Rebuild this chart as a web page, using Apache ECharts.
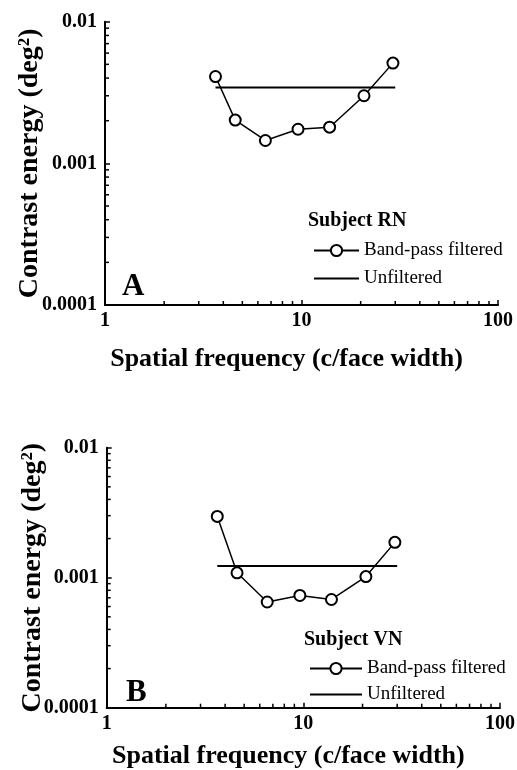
<!DOCTYPE html>
<html>
<head>
<meta charset="utf-8">
<script src="https://cdn.jsdelivr.net/npm/echarts@6/dist/echarts.min.js"></script>
<style>
html,body{margin:0;padding:0;background:#fff;}
#chart{width:517px;height:770px;}
</style>
</head>
<body>
<div id="chart"></div>
<script>
// ---- data ----
const freqs = [3.65, 4.6, 6.55, 9.6, 13.9, 20.8, 29.2];
const bandPassRN = [0.0041, 0.00202, 0.00145, 0.00174, 0.0018, 0.003, 0.0051];
const bandPassVN = [0.00296, 0.00109, 0.00065, 0.00073, 0.00068, 0.00102, 0.00187];
const unfilteredX = [3.65, 30];
const unfilteredRN = 0.00343;
const unfilteredVN = 0.00123;
const xTickLabels = {1: '1', 10: '10', 100: '100'};
const yTickLabels = {0.0001: '0.0001', 0.001: '0.001', 0.01: '0.01'};
const xMinorTicks = [2, 3, 4, 5, 6, 7, 8, 9, 20, 30, 40, 50, 60, 70, 80, 90];
const yMinorTicks = [0.0002, 0.0003, 0.0004, 0.0005, 0.0006, 0.0007, 0.0008, 0.0009,
                     0.002, 0.003, 0.004, 0.005, 0.006, 0.007, 0.008, 0.009];
const xName = 'Spatial frequency (c/face width)';
const yName = 'Contrast energy (deg²)';
const seriesNames = ['Band-pass filtered', 'Unfiltered'];

const FONT = 'Liberation Serif';
const chart = echarts.init(document.getElementById('chart'));

function fmtX(v) { const k = Math.round(v); return xTickLabels[k] !== undefined ? xTickLabels[k] : ''; }
function fmtY(v) {
  for (const key in yTickLabels) { if (Math.abs(Math.log10(v) - Math.log10(+key)) < 1e-6) return yTickLabels[key]; }
  return '';
}

function xAxisCfg(gi, gap) {
  return {
    type: 'log', logBase: 10, min: 1, max: 100, gridIndex: gi,
    name: xName, nameLocation: 'middle', nameGap: gap, nameMoveOverlap: false,
    nameTextStyle: {fontFamily: FONT, fontWeight: 'bold', fontSize: 26, color: '#000', padding: [0, 30, 0, 0]},
    axisLine: {lineStyle: {color: '#000', width: 2}},
    axisTick: {inside: true, length: 5, lineStyle: {color: '#000', width: 1.5}},
    axisLabel: {fontFamily: FONT, fontWeight: 'bold', fontSize: 20, color: '#000', margin: 6, formatter: fmtX},
    splitLine: {show: false}, minorTick: {show: false}
  };
}
function yAxisCfg(gi, gap) {
  return {
    type: 'log', logBase: 10, min: 0.0001, max: 0.01, gridIndex: gi,
    name: yName, nameLocation: 'middle', nameGap: gap, nameRotate: 90, nameMoveOverlap: false,
    nameTextStyle: {fontFamily: FONT, fontWeight: 'bold', fontSize: 28, color: '#000'},
    axisLine: {lineStyle: {color: '#000', width: 2}},
    axisTick: {inside: true, length: 5, lineStyle: {color: '#000', width: 1.5}},
    axisLabel: {fontFamily: FONT, fontWeight: 'bold', fontSize: 20, color: '#000', margin: 8, formatter: fmtY},
    splitLine: {show: false}, minorTick: {show: false}
  };
}

function minorTickSeries(gi) {
  return [{
    type: 'custom', xAxisIndex: gi, yAxisIndex: gi, silent: true, clip: false, z: 1,
    data: xMinorTicks.map(v => [v, 0.0001]),
    renderItem: function (params, api) {
      const p = api.coord([api.value(0), api.value(1)]);
      return {type: 'line', shape: {x1: p[0], y1: p[1], x2: p[0], y2: p[1] - 4}, style: {stroke: '#000', lineWidth: 1.5}};
    }
  }, {
    type: 'custom', xAxisIndex: gi, yAxisIndex: gi, silent: true, clip: false, z: 1,
    data: yMinorTicks.map(v => [1, v]),
    renderItem: function (params, api) {
      const p = api.coord([api.value(0), api.value(1)]);
      return {type: 'line', shape: {x1: p[0], y1: p[1], x2: p[0] + 4, y2: p[1]}, style: {stroke: '#000', lineWidth: 1.5}};
    }
  }];
}

function dataSeries(gi, bp, unf) {
  return [{
    name: seriesNames[0], type: 'line', xAxisIndex: gi, yAxisIndex: gi,
    data: freqs.map((f, i) => [f, bp[i]]),
    symbol: 'circle', symbolSize: 11, showAllSymbol: true,
    lineStyle: {color: '#000', width: 1.5},
    itemStyle: {color: '#fff', borderColor: '#000', borderWidth: 2},
    z: 3, animation: false
  }, {
    name: seriesNames[1], type: 'line', xAxisIndex: gi, yAxisIndex: gi,
    data: unfilteredX.map(x => [x, unf]),
    symbol: 'none', lineStyle: {color: '#000', width: 2},
    itemStyle: {color: '#000'},
    z: 2, animation: false
  }];
}

function legendCfg(left, top, w, gap) {
  return {
    orient: 'vertical', left: left, top: top, itemWidth: w, itemHeight: 14, itemGap: gap,
    data: [{name: seriesNames[0]}, {name: seriesNames[1], itemStyle: {opacity: 0}}],
    selectedMode: false,
    textStyle: {fontFamily: FONT, fontSize: 19, color: '#000'}
  };
}

const option = {
  animation: false,
  backgroundColor: '#fff',
  grid: [
    {left: 105, top: 21.7, width: 393, height: 283.3, outerBoundsMode: 'none', containLabel: false},
    {left: 106.7, top: 447.7, width: 393.3, height: 260, outerBoundsMode: 'none', containLabel: false}
  ],
  xAxis: [xAxisCfg(0, 41), xAxisCfg(1, 36)],
  yAxis: [yAxisCfg(0, 61), yAxisCfg(1, 60)],
  legend: [legendCfg(308, 236, 45, 9), legendCfg(304, 654, 52, 7)],
  graphic: [
    {type: 'text', left: 308, top: 211, style: {text: 'Subject RN', fontFamily: FONT, fontWeight: 'bold', fontSize: 20, fill: '#000'}},
    {type: 'text', left: 304, top: 630, style: {text: 'Subject VN', fontFamily: FONT, fontWeight: 'bold', fontSize: 20, fill: '#000'}},
    {type: 'text', left: 122, top: 271, style: {text: 'A', fontFamily: FONT, fontWeight: 'bold', fontSize: 31, fill: '#000'}},
    {type: 'text', left: 126, top: 677, style: {text: 'B', fontFamily: FONT, fontWeight: 'bold', fontSize: 31, fill: '#000'}}
  ],
  series: [].concat(
    minorTickSeries(0), minorTickSeries(1),
    dataSeries(0, bandPassRN, unfilteredRN),
    dataSeries(1, bandPassVN, unfilteredVN)
  )
};
chart.setOption(option);
</script>
</body>
</html>
